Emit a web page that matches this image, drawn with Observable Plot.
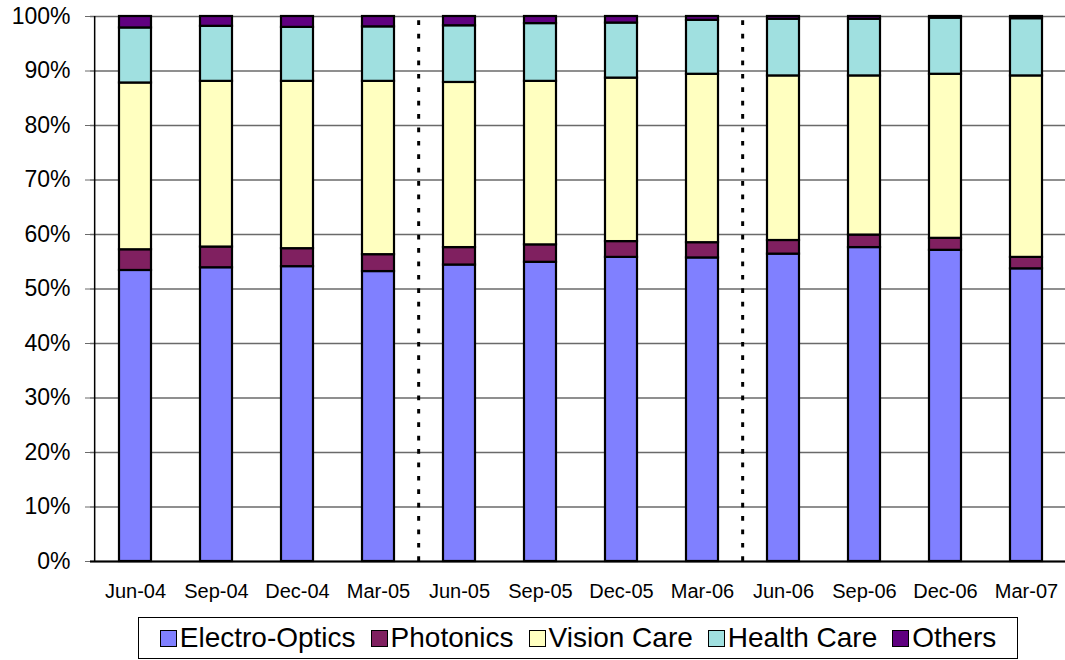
<!DOCTYPE html>
<html>
<head>
<meta charset="utf-8">
<script src="https://cdn.jsdelivr.net/npm/d3@7"></script>
<script src="https://cdn.jsdelivr.net/npm/@observablehq/plot@0.6"></script>
<style>
  html, body { margin: 0; padding: 0; background: #fff; }
  body { width: 1065px; height: 660px; position: relative; overflow: hidden; font-family: "Liberation Sans", Arial, sans-serif; }
  #chart { position: absolute; left: 0; top: 0; }
  #legend { position: absolute; left: 138px; top: 617px; width: 878px; height: 40px; border: 1px solid #000;
            display: flex; align-items: center; justify-content: center; font-size: 28px; color: #000; }
  .item { display: flex; align-items: center; margin: 0 7.5px; }
  .sw { width: 15px; height: 15px; border: 1.5px solid #000; margin-right: 3px; }
</style>
</head>
<body>
<div id="chart"></div>
<div id="legend"></div>
<script>
const categories = ["Jun-04","Sep-04","Dec-04","Mar-05","Jun-05","Sep-05","Dec-05","Mar-06","Jun-06","Sep-06","Dec-06","Mar-07"];
const seriesNames = ["Electro-Optics","Photonics","Vision Care","Health Care","Others"];
const electroOptics = [53.4, 53.9, 54.1, 53.2, 54.4, 54.9, 55.8, 55.7, 56.4, 57.6, 57.1, 53.7];
const photonics     = [ 3.8,  3.8,  3.3,  3.1,  3.2,  3.2,  2.9,  2.8,  2.5,  2.3,  2.2,  2.1];
const visionCare    = [30.6, 30.4, 30.7, 31.8, 30.3, 30.0, 30.0, 30.9, 30.2, 29.2, 30.1, 33.3];
const healthCare    = [10.1, 10.1,  9.9, 10.0, 10.4, 10.6, 10.1,  9.9, 10.4, 10.4, 10.3, 10.5];
const others        = [ 2.1,  1.8,  2.0,  1.9,  1.7,  1.3,  1.2,  0.7,  0.5,  0.5,  0.3,  0.4];
const yTicks = [0,10,20,30,40,50,60,70,80,90,100];
const dividers = ["Jun-05","Jun-06"];
const colors = ["#8080FF","#802060","#FFFFC0","#A0E0E0","#600080"];

const seriesValues = [electroOptics, photonics, visionCare, healthCare, others];
const data = [];
seriesNames.forEach((s, si) => categories.forEach((c, ci) => data.push({cat: c, series: s, value: seriesValues[si][ci]})));

const W = 1065, H = 612, mL = 90, mR = -5, mT = 16, mB = 51;
const step = (W - mL - mR) / categories.length;

const chart = Plot.plot({
  width: W, height: H,
  marginLeft: mL, marginRight: mR, marginTop: mT, marginBottom: mB,
  style: {fontFamily: "Liberation Sans, Arial, sans-serif", background: "#fff", overflow: "visible"},
  x: {domain: categories, paddingInner: 0.61, paddingOuter: 0.305, label: null},
  y: {domain: [0, 100], label: null},
  color: {domain: seriesNames, range: colors},
  marks: [
    Plot.gridY(yTicks, {stroke: "#6a6a6a", strokeOpacity: 1, strokeWidth: 1.5}),
    Plot.barY(data, Plot.stackY({x: "cat", y: "value", fill: "series", stroke: "#000", strokeWidth: 2.2, order: seriesNames})),
    Plot.ruleX(dividers, {dx: -step / 2, y1: 0, y2: 100, stroke: "#000", strokeWidth: 3, strokeDasharray: "4.7,8.7"}),
    Plot.axisY(yTicks, {tickFormat: d => d + "%", tickSize: 5, tickPadding: 15, fontSize: 23, stroke: "#6a6a6a", label: null}),
    Plot.axisX({tickSize: 0, tickPadding: 22, fontSize: 20, label: null}),
    Plot.ruleX([0], {x: () => categories[0], dx: -step / 2, y1: 0, y2: 100, stroke: "#000", strokeWidth: 1.5}),
    Plot.ruleY([0], {stroke: "#000", strokeWidth: 2})
  ]
});
document.getElementById("chart").appendChild(chart);

const legend = document.getElementById("legend");
seriesNames.forEach((s, i) => {
  const item = document.createElement("div");
  item.className = "item";
  const sw = document.createElement("div");
  sw.className = "sw";
  sw.style.background = colors[i];
  const t = document.createElement("span");
  t.textContent = s;
  item.appendChild(sw); item.appendChild(t);
  legend.appendChild(item);
});
</script>
</body>
</html>
